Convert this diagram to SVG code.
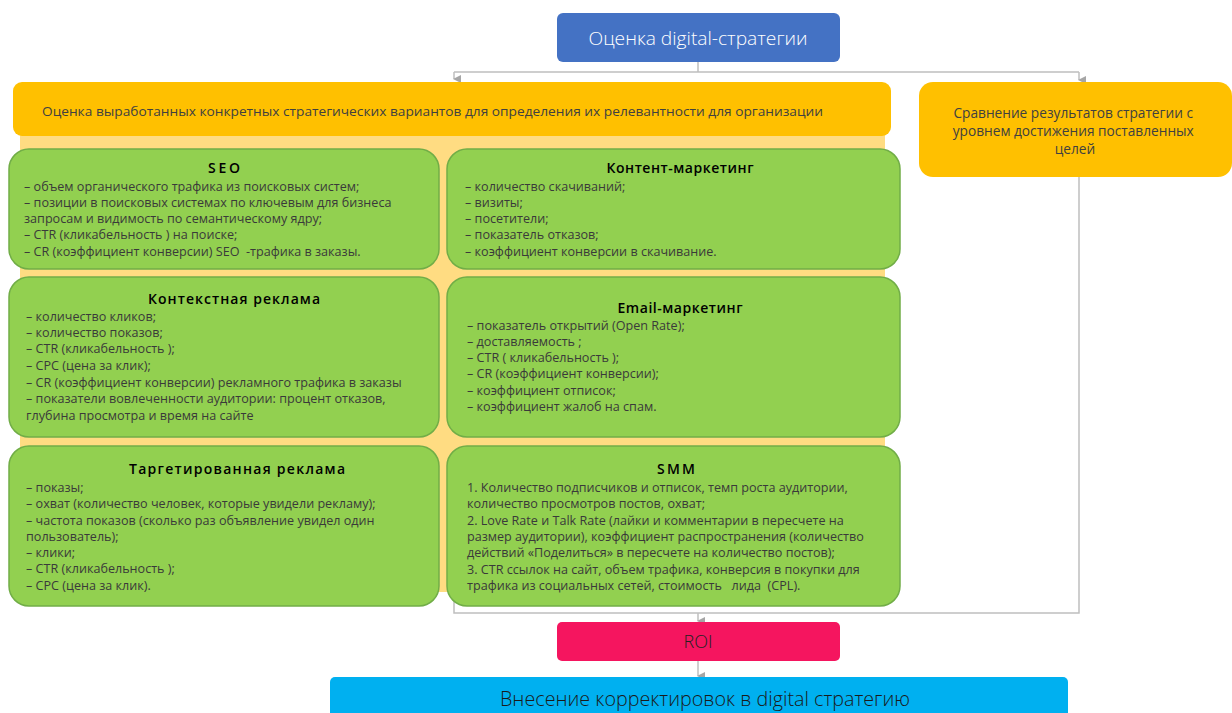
<svg xmlns="http://www.w3.org/2000/svg" width="1232" height="713" viewBox="0 0 1232 713">
<defs>
<marker id="arr" markerWidth="8" markerHeight="8" refX="4" refY="7" orient="auto-start-reverse" markerUnits="userSpaceOnUse" viewBox="0 0 8 8">
<path d="M0,0 L8,0 L4,8 Z" fill="#A6A6A6"/>
</marker>
<style>
.conn{fill:none;stroke:#BFBFBF;stroke-width:1.5}
.green{fill:#92D050;stroke:#71AD47;stroke-width:1.5}
.title{font-family:"Open Sans","Noto Sans",sans-serif;font-size:14px;font-weight:600;fill:#000;text-anchor:middle}
.body{font-family:"Open Sans","Noto Sans",sans-serif;font-size:12.6px;fill:#3A3A3A;white-space:pre}
.ytext{font-family:"Open Sans","Noto Sans",sans-serif;font-size:13px;fill:#404040}
</style>
</defs>
<rect width="1232" height="713" fill="#FFFFFF"/>

<g id="connectors">
<path class="conn" d="M698,62 V72 M454,72 H1079"/>
<path class="conn" d="M454,72 V79" marker-end="url(#arr)"/>
<path class="conn" d="M1079,72 V80" marker-end="url(#arr)"/>
<path class="conn" d="M1079,177 V613 H454 V590"/>
<path class="conn" d="M698,613 V621" marker-end="url(#arr)"/>
<path class="conn" d="M698,661 V676" marker-end="url(#arr)"/>
</g>

<g id="top">
<rect x="557" y="13" width="283" height="49" rx="6" fill="#4472C4"/>
<text x="698" y="45" text-anchor="middle" font-family="Open Sans, Noto Sans, sans-serif" font-size="19" font-weight="300" fill="#FFFFFF" textLength="219" lengthAdjust="spacingAndGlyphs">Оценка digital-стратегии</text>
</g>

<g id="panel">
<rect x="20" y="130" width="865" height="462" fill="#FFDC82"/>
</g>

<g id="eval">
<rect x="13" y="82" width="878" height="54" rx="9" fill="#FFC000"/>
<text class="ytext" x="42" y="116" textLength="781" lengthAdjust="spacingAndGlyphs">Оценка выработанных конкретных стратегических вариантов для определения их релевантности для организации</text>
</g>

<g id="compare">
<rect x="919" y="82" width="313" height="95" rx="14" fill="#FFC000"/>
<text class="ytext" text-anchor="middle" style="font-size:13.7px">
<tspan x="1075" y="118">Сравнение результатов стратегии с</tspan>
<tspan x="1075" y="136">уровнем достижения поставленных</tspan>
<tspan x="1075" y="154">целей</tspan>
</text>
</g>

<g id="seo">
<rect class="green" x="9" y="149" width="430" height="120" rx="20"/>
<text class="title" x="224" y="173" textLength="32">SEO</text>
<text class="body">
<tspan x="24" y="191">– объем органического трафика из поисковых систем;</tspan>
<tspan x="24" y="207">– позиции в поисковых системах по ключевым для бизнеса</tspan>
<tspan x="24" y="223">запросам и видимость по семантическому ядру;</tspan>
<tspan x="24" y="239">– CTR (кликабельность ) на поиске;</tspan>
<tspan x="24" y="256">– CR (коэффициент конверсии) SEO  -трафика в заказы.</tspan>
</text>
</g>

<g id="content">
<rect class="green" x="447" y="149" width="453" height="120" rx="20"/>
<text class="title" x="680" y="173" textLength="147">Контент-маркетинг</text>
<text class="body">
<tspan x="465" y="191">– количество скачиваний;</tspan>
<tspan x="465" y="207">– визиты;</tspan>
<tspan x="465" y="223">– посетители;</tspan>
<tspan x="465" y="239">– показатель отказов;</tspan>
<tspan x="465" y="256">– коэффициент конверсии в скачивание.</tspan>
</text>
</g>

<g id="context">
<rect class="green" x="9" y="277" width="430" height="160" rx="20"/>
<text class="title" x="234" y="304" textLength="172">Контекстная реклама</text>
<text class="body">
<tspan x="26" y="321">– количество кликов;</tspan>
<tspan x="26" y="337">– количество показов;</tspan>
<tspan x="26" y="353">– CTR (кликабельность );</tspan>
<tspan x="26" y="370">– CPC (цена за клик);</tspan>
<tspan x="26" y="387">– CR (коэффициент конверсии) рекламного трафика в заказы</tspan>
<tspan x="26" y="403">– показатели вовлеченности аудитории: процент отказов,</tspan>
<tspan x="26" y="420">глубина просмотра и время на сайте</tspan>
</text>
</g>

<g id="email">
<rect class="green" x="447" y="277" width="453" height="160" rx="20"/>
<text class="title" x="680" y="313" textLength="125">Email-маркетинг</text>
<text class="body">
<tspan x="467" y="330">– показатель открытий (Open Rate);</tspan>
<tspan x="467" y="346">– доставляемость ;</tspan>
<tspan x="467" y="362">– CTR ( кликабельность );</tspan>
<tspan x="467" y="378">– CR (коэффициент конверсии);</tspan>
<tspan x="467" y="395">– коэффициент отписок;</tspan>
<tspan x="467" y="411">– коэффициент жалоб на спам.</tspan>
</text>
</g>

<g id="target">
<rect class="green" x="9" y="446" width="430" height="160" rx="20"/>
<text class="title" x="237" y="474" textLength="216">Таргетированная реклама</text>
<text class="body">
<tspan x="26" y="492">– показы;</tspan>
<tspan x="26" y="508">– охват (количество человек, которые увидели рекламу);</tspan>
<tspan x="26" y="525">– частота показов (сколько раз объявление увидел один</tspan>
<tspan x="26" y="541">пользователь);</tspan>
<tspan x="26" y="557">– клики;</tspan>
<tspan x="26" y="573">– CTR (кликабельность );</tspan>
<tspan x="26" y="590">– CPC (цена за клик).</tspan>
</text>
</g>

<g id="smm">
<rect class="green" x="447" y="446" width="453" height="160" rx="20"/>
<text class="title" x="676" y="474" textLength="38">SMM</text>
<text class="body">
<tspan x="467" y="492">1. Количество подписчиков и отписок, темп роста аудитории,</tspan>
<tspan x="467" y="508">количество просмотров постов, охват;</tspan>
<tspan x="467" y="525">2. Love Rate и Talk Rate (лайки и комментарии в пересчете на</tspan>
<tspan x="467" y="541">размер аудитории), коэффициент распространения (количество</tspan>
<tspan x="467" y="557">действий «Поделиться» в пересчете на количество постов);</tspan>
<tspan x="467" y="574">3. CTR ссылок на сайт, объем трафика, конверсия в покупки для</tspan>
<tspan x="467" y="590">трафика из социальных сетей, стоимость   лида  (CPL).</tspan>
</text>
</g>

<g id="roi">
<rect x="557" y="622" width="283" height="39" rx="5" fill="#F5155F"/>
<text x="698" y="648" text-anchor="middle" font-family="Open Sans, Noto Sans, sans-serif" font-size="18" font-weight="300" fill="#222222" textLength="29" lengthAdjust="spacingAndGlyphs">ROI</text>
</g>

<g id="corrections">
<rect x="330" y="677" width="738" height="50" rx="5" fill="#00B0F0"/>
<text x="705" y="706" text-anchor="middle" font-family="Open Sans, Noto Sans, sans-serif" font-size="20" font-weight="300" fill="#1A1A1A" textLength="410" lengthAdjust="spacingAndGlyphs">Внесение корректировок в digital стратегию</text>
</g>
</svg>
